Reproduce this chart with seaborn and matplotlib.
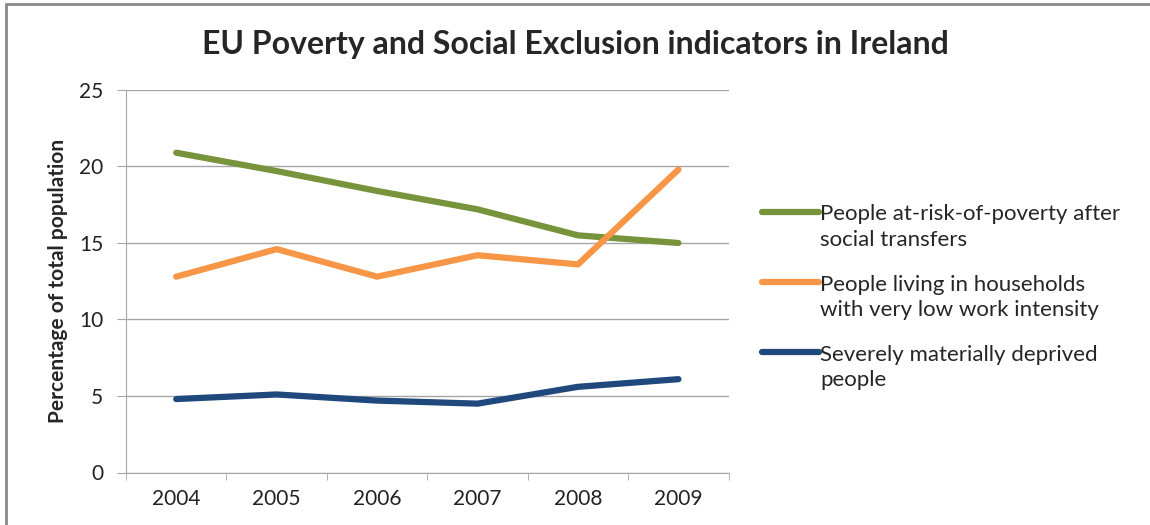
import pandas as pd
import matplotlib.pyplot as plt
import seaborn as sns
from matplotlib.patches import Rectangle

years = ["2004", "2005", "2006", "2007", "2008", "2009"]
at_risk = [20.9, 19.7, 18.4, 17.2, 15.5, 15.0]
low_work = [12.8, 14.6, 12.8, 14.2, 13.6, 19.8]
deprived = [4.8, 5.1, 4.7, 4.5, 5.6, 6.1]

labels = ["People at-risk-of-poverty after\nsocial transfers",
          "People living in households\nwith very low work intensity",
          "Severely materially deprived\npeople"]
colors = ["#77933C", "#F79646", "#1F497D"]

df = pd.DataFrame({"year": years * 3,
                   "value": at_risk + low_work + deprived,
                   "series": [labels[0]] * 6 + [labels[1]] * 6 + [labels[2]] * 6})

sns.set_style("white")
plt.rcParams['font.family'] = ['Lato', 'DejaVu Sans']

fig = plt.figure(figsize=(11.5, 5.25), dpi=100)
ax = fig.add_axes([0.1096, 0.1, 0.524, 0.7286])

sns.lineplot(df, x="year", y="value", hue="series", palette=colors,
             linewidth=4.5, ax=ax, sort=False, solid_capstyle="round")

ax.set_xlim(-0.5, 5.5)
ax.set_ylim(0, 25)
ax.set_yticks([0, 5, 10, 15, 20, 25])
ax.yaxis.grid(True, color="#a6a6a6", linewidth=1)
ax.set_axisbelow(True)
for s in ["top", "right"]:
    ax.spines[s].set_visible(False)
for s in ["left", "bottom"]:
    ax.spines[s].set_color("#a6a6a6")
ax.tick_params(axis="y", length=6.5, color="#a6a6a6", labelsize=15, pad=10,
               left=True, labelcolor="#222222")
ax.tick_params(axis="x", length=0, labelsize=15, pad=12, labelcolor="#222222")
# tick marks between categories
ax.set_xticks([i - 0.5 for i in range(7)], minor=True)
ax.tick_params(axis="x", which="minor", length=5, color="#a6a6a6", bottom=True)

ax.set_xlabel("")
ax.set_ylabel("Percentage of total population", fontsize=15, fontweight="bold", labelpad=8)

fig.suptitle("EU Poverty and Social Exclusion indicators in Ireland",
             fontsize=23, fontweight="bold", y=0.943)

leg = ax.legend(loc="center left", bbox_to_anchor=(1.056, 0.458), frameon=False,
                fontsize=16, handlelength=2.55, handletextpad=0.05, labelspacing=1.1,
                borderaxespad=0, borderpad=0)
for t in leg.get_texts():
    t.set_linespacing(1.35)
# put the handle level with the first line of each label
for line in leg.get_lines():
    line.set_ydata([y + 0.68 * 16 for y in line.get_ydata()])
    line.set_linewidth(4.5)

fig.patches.append(Rectangle((0.005, -0.05), 1.2, 1.042, transform=fig.transFigure,
                             fill=False, edgecolor="#888888", linewidth=2))

plt.savefig("out.png")
